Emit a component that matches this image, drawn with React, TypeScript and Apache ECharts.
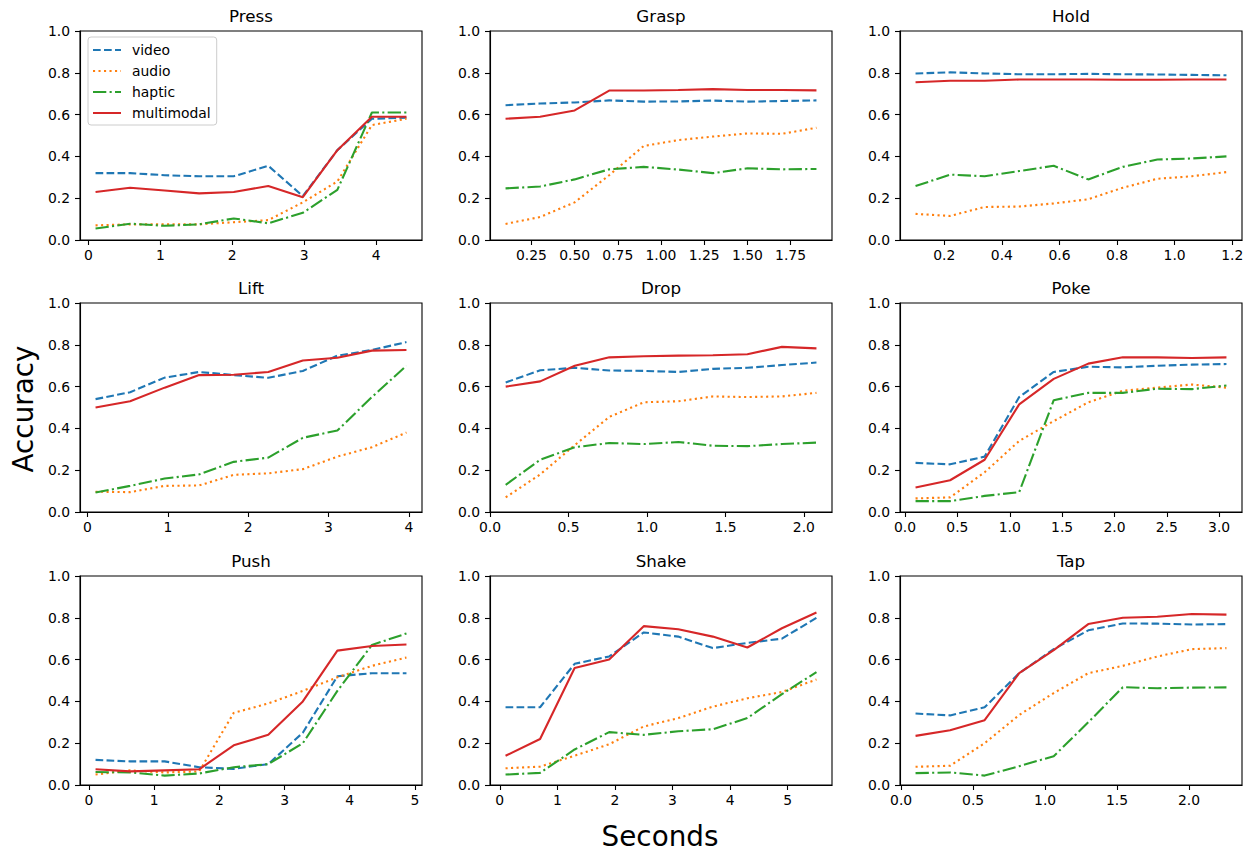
import React, { useEffect, useRef } from "react";
import * as echarts from "echarts";

// ---------- data ----------
const seriesNames = ["video", "audio", "haptic", "multimodal"];
const panelTitles = ["Press", "Grasp", "Hold", "Lift", "Drop", "Poke", "Push", "Shake", "Tap"];

const pressX = [0.1, 0.58, 1.06, 1.54, 2.02, 2.5, 2.98, 3.46, 3.94, 4.42];
const pressVideo = [0.32, 0.32, 0.31, 0.305, 0.305, 0.355, 0.21, 0.43, 0.58, 0.585];
const pressAudio = [0.07, 0.075, 0.075, 0.075, 0.085, 0.095, 0.18, 0.28, 0.55, 0.58];
const pressHaptic = [0.055, 0.078, 0.068, 0.075, 0.103, 0.08, 0.13, 0.24, 0.61, 0.61];
const pressMulti = [0.23, 0.25, 0.237, 0.223, 0.23, 0.258, 0.205, 0.43, 0.59, 0.59];
const pressTicks = [0, 1, 2, 3, 4];

const graspX = [0.1, 0.3, 0.5, 0.7, 0.9, 1.1, 1.3, 1.5, 1.7, 1.9];
const graspVideo = [0.645, 0.653, 0.658, 0.668, 0.662, 0.663, 0.667, 0.662, 0.665, 0.668];
const graspAudio = [0.077, 0.11, 0.18, 0.31, 0.45, 0.478, 0.495, 0.51, 0.508, 0.537];
const graspHaptic = [0.247, 0.256, 0.29, 0.338, 0.35, 0.337, 0.32, 0.343, 0.338, 0.34];
const graspMulti = [0.58, 0.59, 0.62, 0.715, 0.715, 0.718, 0.722, 0.718, 0.718, 0.716];
const graspTicks = [0.25, 0.5, 0.75, 1.0, 1.25, 1.5, 1.75];

const holdX = [0.1, 0.22, 0.34, 0.46, 0.58, 0.7, 0.82, 0.94, 1.06, 1.18];
const holdVideo = [0.797, 0.802, 0.797, 0.793, 0.793, 0.795, 0.793, 0.792, 0.79, 0.788];
const holdAudio = [0.125, 0.115, 0.158, 0.16, 0.175, 0.195, 0.25, 0.293, 0.305, 0.325];
const holdHaptic = [0.258, 0.313, 0.305, 0.33, 0.355, 0.29, 0.35, 0.385, 0.39, 0.4];
const holdMulti = [0.755, 0.762, 0.762, 0.768, 0.768, 0.768, 0.767, 0.767, 0.768, 0.768];
const holdTicks = [0.2, 0.4, 0.6, 0.8, 1.0, 1.2];

const liftX = [0.1, 0.53, 0.96, 1.39, 1.82, 2.25, 2.68, 3.11, 3.54, 3.97];
const liftVideo = [0.54, 0.573, 0.643, 0.67, 0.655, 0.642, 0.675, 0.748, 0.775, 0.813];
const liftAudio = [0.097, 0.095, 0.125, 0.127, 0.178, 0.185, 0.205, 0.265, 0.31, 0.38];
const liftHaptic = [0.093, 0.125, 0.16, 0.18, 0.24, 0.26, 0.355, 0.39, 0.55, 0.7];
const liftMulti = [0.5, 0.53, 0.595, 0.655, 0.657, 0.67, 0.725, 0.738, 0.772, 0.775];
const liftTicks = [0, 1, 2, 3, 4];

const dropX = [0.1, 0.32, 0.54, 0.76, 0.98, 1.2, 1.42, 1.64, 1.86, 2.08];
const dropVideo = [0.62, 0.678, 0.69, 0.677, 0.675, 0.67, 0.685, 0.69, 0.703, 0.715];
const dropAudio = [0.07, 0.18, 0.32, 0.455, 0.525, 0.53, 0.553, 0.55, 0.553, 0.57];
const dropHaptic = [0.13, 0.25, 0.31, 0.33, 0.325, 0.335, 0.317, 0.315, 0.325, 0.332];
const dropMulti = [0.6, 0.625, 0.7, 0.74, 0.745, 0.748, 0.75, 0.755, 0.79, 0.783];
const dropTicks = [0, 0.5, 1.0, 1.5, 2.0];

const pokeX = [0.1, 0.43, 0.76, 1.09, 1.42, 1.75, 2.08, 2.41, 2.74, 3.07];
const pokeVideo = [0.235, 0.228, 0.265, 0.55, 0.67, 0.695, 0.692, 0.7, 0.705, 0.708];
const pokeAudio = [0.065, 0.07, 0.19, 0.34, 0.435, 0.525, 0.58, 0.595, 0.61, 0.595];
const pokeHaptic = [0.052, 0.052, 0.077, 0.095, 0.535, 0.57, 0.57, 0.59, 0.588, 0.605];
const pokeMulti = [0.117, 0.152, 0.25, 0.515, 0.637, 0.71, 0.74, 0.74, 0.737, 0.74];
const pokeTicks = [0, 0.5, 1.0, 1.5, 2.0, 2.5, 3.0];

const pushX = [0.1, 0.63, 1.16, 1.69, 2.22, 2.75, 3.28, 3.81, 4.34, 4.87];
const pushVideo = [0.12, 0.113, 0.113, 0.085, 0.077, 0.1, 0.25, 0.52, 0.535, 0.535];
const pushAudio = [0.05, 0.07, 0.06, 0.065, 0.345, 0.39, 0.45, 0.515, 0.57, 0.61];
const pushHaptic = [0.062, 0.06, 0.045, 0.055, 0.085, 0.1, 0.2, 0.45, 0.67, 0.725];
const pushMulti = [0.075, 0.065, 0.07, 0.075, 0.19, 0.24, 0.4, 0.643, 0.665, 0.672];
const pushTicks = [0, 1, 2, 3, 4, 5];

const shakeX = [0.1, 0.7, 1.3, 1.9, 2.5, 3.1, 3.7, 4.3, 4.9, 5.5];
const shakeVideo = [0.372, 0.372, 0.58, 0.615, 0.73, 0.71, 0.655, 0.68, 0.7, 0.8];
const shakeAudio = [0.08, 0.088, 0.14, 0.195, 0.28, 0.32, 0.375, 0.415, 0.445, 0.505];
const shakeHaptic = [0.05, 0.058, 0.17, 0.253, 0.24, 0.257, 0.267, 0.32, 0.435, 0.54];
const shakeMulti = [0.14, 0.22, 0.56, 0.6, 0.76, 0.745, 0.71, 0.658, 0.75, 0.825];
const shakeTicks = [0, 1, 2, 3, 4, 5];

const tapX = [0.1, 0.34, 0.58, 0.82, 1.06, 1.3, 1.54, 1.78, 2.02, 2.26];
const tapVideo = [0.342, 0.333, 0.372, 0.535, 0.65, 0.74, 0.773, 0.772, 0.768, 0.77];
const tapAudio = [0.087, 0.092, 0.2, 0.335, 0.44, 0.535, 0.57, 0.615, 0.65, 0.655];
const tapHaptic = [0.057, 0.06, 0.045, 0.09, 0.138, 0.3, 0.468, 0.463, 0.466, 0.467];
const tapMulti = [0.235, 0.262, 0.31, 0.535, 0.645, 0.77, 0.8, 0.805, 0.818, 0.815];
const tapTicks = [0, 0.5, 1.0, 1.5, 2.0];

const yTicks = [0, 0.2, 0.4, 0.6, 0.8, 1.0];

// ---------- styling / layout ----------
const FONT = "DejaVu Sans";
const COLORS = ["#1f77b4", "#ff7f0e", "#2ca02c", "#d62728"];
const DASHES: any[] = [[7.7, 3.3], [2.1, 3.4], [13.3, 3.3, 2.1, 3.3], "solid"];
const COL_LEFT = [80, 490, 900];
const ROW_TOP = [31, 303, 576];
const GW = 342;
const GH = 209;

const panels = [
  { x: pressX, ys: [pressVideo, pressAudio, pressHaptic, pressMulti], ticks: pressTicks, dec: 0 },
  { x: graspX, ys: [graspVideo, graspAudio, graspHaptic, graspMulti], ticks: graspTicks, dec: 2 },
  { x: holdX, ys: [holdVideo, holdAudio, holdHaptic, holdMulti], ticks: holdTicks, dec: 1 },
  { x: liftX, ys: [liftVideo, liftAudio, liftHaptic, liftMulti], ticks: liftTicks, dec: 0 },
  { x: dropX, ys: [dropVideo, dropAudio, dropHaptic, dropMulti], ticks: dropTicks, dec: 1 },
  { x: pokeX, ys: [pokeVideo, pokeAudio, pokeHaptic, pokeMulti], ticks: pokeTicks, dec: 1 },
  { x: pushX, ys: [pushVideo, pushAudio, pushHaptic, pushMulti], ticks: pushTicks, dec: 0 },
  { x: shakeX, ys: [shakeVideo, shakeAudio, shakeHaptic, shakeMulti], ticks: shakeTicks, dec: 0 },
  { x: tapX, ys: [tapVideo, tapAudio, tapHaptic, tapMulti], ticks: tapTicks, dec: 1 },
];

function buildOption() {
  const grid: any[] = [];
  const xAxis: any[] = [];
  const yAxis: any[] = [];
  const series: any[] = [];
  const graphic: any[] = [];
  const labelStyle = { color: "#000", fontFamily: FONT, fontSize: 13.9 };

  panels.forEach((p, i) => {
    const r = Math.floor(i / 3);
    const c = i % 3;
    const left = COL_LEFT[c];
    const top = ROW_TOP[r];
    grid.push({
      left,
      top,
      width: GW,
      height: GH,
      show: true,
      borderColor: "#000",
      borderWidth: 1.1,
      backgroundColor: "transparent",
      containLabel: false,
    });
    const x0 = p.x[0];
    const x1 = p.x[p.x.length - 1];
    const pad = (x1 - x0) * 0.05;
    xAxis.push({
      type: "value",
      gridIndex: i,
      min: Math.min(x0 - pad, p.ticks[0]),
      max: x1 + pad,
      splitLine: { show: false },
      axisLine: { show: true, onZero: false, lineStyle: { color: "#000", width: 1.1 } },
      axisTick: { show: true, length: 5, customValues: p.ticks, lineStyle: { color: "#000", width: 1.1 } },
      axisLabel: {
        ...labelStyle,
        margin: 8,
        showMinLabel: true,
        customValues: p.ticks,
        formatter: (v: number) => v.toFixed(p.dec),
      },
    });
    yAxis.push({
      type: "value",
      gridIndex: i,
      min: 0,
      max: 1,
      splitLine: { show: false },
      axisLine: { show: true, onZero: false, lineStyle: { color: "#000", width: 1.1 } },
      axisTick: { show: true, length: 5, customValues: yTicks, lineStyle: { color: "#000", width: 1.1 } },
      axisLabel: {
        ...labelStyle,
        margin: 10,
        customValues: yTicks,
        formatter: (v: number) => v.toFixed(1),
      },
    });
    p.ys.forEach((ys, k) => {
      series.push({
        type: "line",
        name: seriesNames[k],
        xAxisIndex: i,
        yAxisIndex: i,
        data: p.x.map((xv, j) => [xv, ys[j]]),
        showSymbol: false,
        symbol: "none",
        silent: true,
        clip: true,
        color: COLORS[k],
        lineStyle: { color: COLORS[k], width: 2.1, type: DASHES[k], cap: "butt" },
      });
    });
    graphic.push({
      type: "text",
      x: left + GW / 2,
      y: top - 15,
      style: {
        text: panelTitles[i],
        fill: "#000",
        font: `16.7px '${FONT}'`,
        textAlign: "center",
        textVerticalAlign: "middle",
      },
    });
  });

  graphic.push({
    type: "text",
    x: 23.5,
    y: 409,
    rotation: Math.PI / 2,
    style: {
      text: "Accuracy",
      fill: "#000",
      font: `27.8px '${FONT}'`,
      textAlign: "center",
      textVerticalAlign: "middle",
    },
  });
  graphic.push({
    type: "text",
    x: 660,
    y: 836.5,
    style: {
      text: "Seconds",
      fill: "#000",
      font: `27.8px '${FONT}'`,
      textAlign: "center",
      textVerticalAlign: "middle",
    },
  });

  return {
    animation: false,
    backgroundColor: "#fff",
    textStyle: { fontFamily: FONT },
    grid,
    xAxis,
    yAxis,
    series,
    graphic,
    legend: {
      show: true,
      data: seriesNames,
      orient: "vertical",
      left: 88,
      top: 37,
      itemWidth: 28,
      itemHeight: 12,
      itemGap: 7,
      padding: [6, 6, 5, 4],
      borderColor: "#cccccc",
      borderWidth: 1,
      borderRadius: 3,
      backgroundColor: "rgba(255,255,255,0.8)",
      selectedMode: false,
      itemStyle: { opacity: 0 },
      textStyle: { color: "#000", fontFamily: FONT, fontSize: 13.9, padding: [0, 0, 0, 6] },
    },
  };
}

export default function App() {
  const ref = useRef<HTMLDivElement>(null);
  useEffect(() => {
    if (!ref.current) return;
    const chart = echarts.init(ref.current, undefined, { renderer: "svg" });
    chart.setOption(buildOption() as any);
    return () => chart.dispose();
  }, []);
  return (
    <div
      ref={ref}
      style={{ position: "absolute", left: 0, top: 0, width: 1255, height: 863, background: "#fff" }}
    />
  );
}
